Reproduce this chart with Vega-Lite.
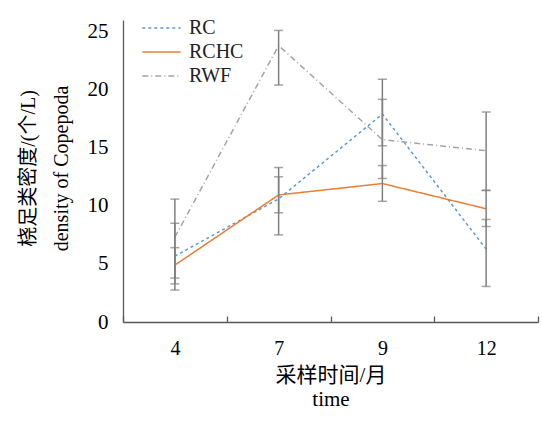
{
  "$schema": "https://vega.github.io/schema/vega-lite/v6.json",
  "autosize": "none",
  "width": 415,
  "height": 302,
  "padding": {"left": 123, "top": 20, "right": 4, "bottom": 105},
  "background": "white",
  "config": {
    "view": {"stroke": null},
    "font": "Liberation Serif, Noto Sans CJK SC",
    "axis": {"grid": false, "domainColor": "#595959", "domainWidth": 1.3, "labelColor": "#000", "titleColor": "#000", "labelFont": "Liberation Serif", "labelFontSize": 20, "titleFont": "Liberation Serif, Noto Sans CJK SC", "titleFontSize": 20, "titleFontWeight": "normal"}
  },
  "data": {"values": [
    {"series": "RC", "month": "4", "value": 5.67, "low": 2.75, "high": 8.5},
    {"series": "RCHC", "month": "4", "value": 4.9, "low": 3.28, "high": 6.4},
    {"series": "RWF", "month": "4", "value": 7.3, "low": 3.78, "high": 10.58},
    {"series": "RC", "month": "7", "value": 10.6, "low": 7.5, "high": 13.3},
    {"series": "RCHC", "month": "7", "value": 10.94, "low": 9.4, "high": 12.5},
    {"series": "RWF", "month": "7", "value": 23.8, "low": 20.4, "high": 25.1},
    {"series": "RC", "month": "9", "value": 17.9, "low": 15.17, "high": 20.9},
    {"series": "RCHC", "month": "9", "value": 11.92, "low": 10.39, "high": 13.47},
    {"series": "RWF", "month": "9", "value": 15.7, "low": 12.36, "high": 19.17},
    {"series": "RC", "month": "12", "value": 6.28, "low": 3.06, "high": 8.83},
    {"series": "RCHC", "month": "12", "value": 9.75, "low": 8.22, "high": 11.33},
    {"series": "RWF", "month": "12", "value": 14.75, "low": 11.33, "high": 18.08}
  ]},
  "encoding": {
    "x": {"field": "month", "type": "ordinal", "sort": ["4", "7", "9", "12"], "bandPosition": 0.5,
      "scale": {"type": "band", "paddingInner": 0, "paddingOuter": 0},
      "axis": {"labelAngle": 0, "tickBand": "extent", "tickSize": -6, "tickColor": "#595959", "tickWidth": 1.3, "labelPadding": 22, "title": ["采样时间/月", "time"], "titleFontSize": 21, "titlePadding": 6, "titleLineHeight": 24}}
  },
  "layer": [
    {
      "mark": {"type": "line", "strokeWidth": 1.5},
      "encoding": {
        "y": {"field": "value", "type": "quantitative", "scale": {"domain": [0, 25]},
          "axis": {"values": [0, 5, 10, 15, 20, 25], "ticks": false, "labelPadding": 15, "labelFontSize": 21, "title": ["桡足类密度/(个/L)", "density of Copepoda"], "titleLineHeight": 33, "titlePadding": 16, "titleY": 148}},
        "color": {"field": "series", "type": "nominal", "scale": {"domain": ["RC", "RCHC", "RWF"], "range": ["#5b9bd5", "#ed7d31", "#a5a5a5"]},
          "legend": {"title": null, "orient": "none", "legendX": 25.5, "legendY": -5, "symbolType": "M-1.6,0L1.6,0", "symbolSize": 576, "symbolStrokeWidth": 1.5, "labelFont": "Liberation Serif", "labelFontSize": 20, "labelColor": "#222", "labelOffset": 14.5, "rowPadding": 1}},
        "strokeDash": {"field": "series", "type": "nominal", "scale": {"domain": ["RC", "RCHC", "RWF"], "range": [[3, 3], [1, 0], [6, 3, 1, 3]]}}
      }
    },
    {
      "mark": {"type": "rule", "color": "#7f7f7f", "strokeWidth": 1.5},
      "encoding": {
        "y": {"field": "low", "type": "quantitative"},
        "y2": {"field": "high"}
      }
    },
    {
      "mark": {"type": "tick", "color": "#7f7f7f", "thickness": 1.5, "size": 9, "orient": "horizontal"},
      "encoding": {"y": {"field": "low", "type": "quantitative"}}
    },
    {
      "mark": {"type": "tick", "color": "#7f7f7f", "thickness": 1.5, "size": 9, "orient": "horizontal"},
      "encoding": {"y": {"field": "high", "type": "quantitative"}}
    }
  ]
}
